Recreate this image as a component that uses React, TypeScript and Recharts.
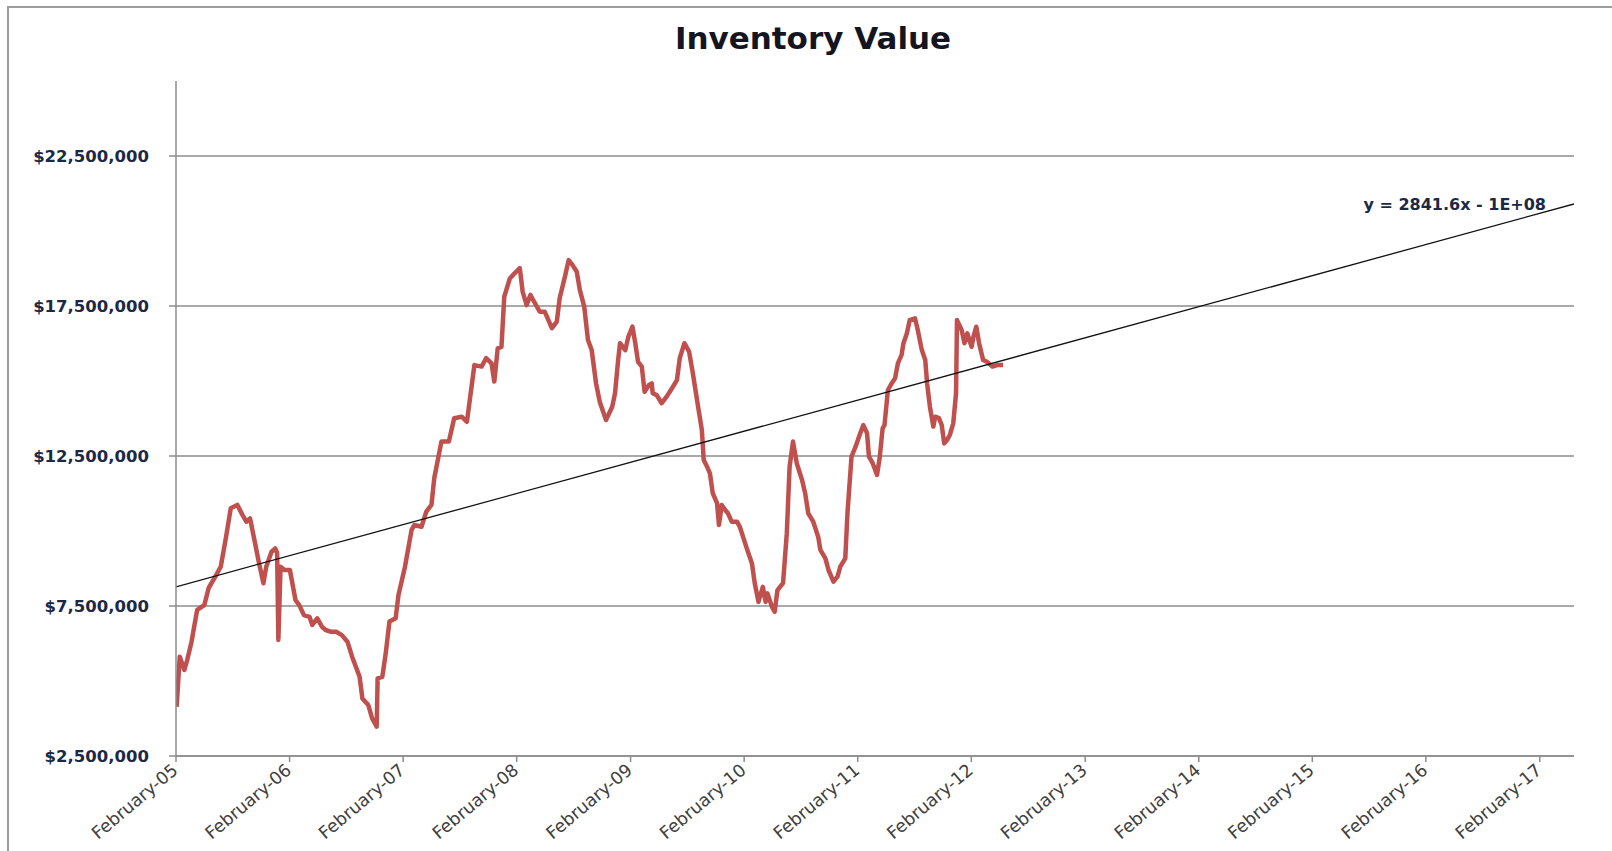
import { LineChart, Line, XAxis, YAxis, ReferenceLine, ReferenceDot } from 'recharts';

// weekly-ish inventory readings
const dates = [
  '2005-02-03', '2005-02-13', '2005-02-28', '2005-03-09', '2005-03-23', '2005-04-10', '2005-05-03', '2005-05-17',
  '2005-06-10', '2005-06-25', '2005-07-12', '2005-07-27', '2005-08-17', '2005-09-03', '2005-09-15', '2005-09-27',
  '2005-10-11', '2005-10-26', '2005-11-09', '2005-11-18', '2005-12-05', '2005-12-17', '2005-12-23', '2005-12-27',
  '2006-01-03', '2006-01-16', '2006-02-02', '2006-02-20', '2006-03-04', '2006-03-19', '2006-04-06', '2006-04-15',
  '2006-05-01', '2006-05-16', '2006-05-28', '2006-06-15', '2006-07-01', '2006-07-19', '2006-08-06', '2006-08-21',
  '2006-09-14', '2006-09-23', '2006-10-12', '2006-10-24', '2006-11-08', '2006-11-11', '2006-11-26', '2006-12-07',
  '2006-12-19', '2007-01-08', '2007-01-17', '2007-02-07', '2007-02-28', '2007-03-09', '2007-04-01', '2007-04-16',
  '2007-05-03', '2007-05-12', '2007-06-04', '2007-06-28', '2007-07-15', '2007-08-08', '2007-08-25', '2007-09-18',
  '2007-10-11', '2007-10-26', '2007-11-12', '2007-11-21', '2007-12-02', '2007-12-14', '2007-12-23', '2008-01-10',
  '2008-01-25', '2008-02-11', '2008-02-20', '2008-03-04', '2008-03-16', '2008-03-28', '2008-04-15', '2008-05-01',
  '2008-05-24', '2008-06-09', '2008-06-18', '2008-07-05', '2008-07-17', '2008-07-29', '2008-08-12', '2008-08-22',
  '2008-09-05', '2008-09-17', '2008-09-29', '2008-10-13', '2008-10-25', '2008-11-14', '2008-12-04', '2008-12-13',
  '2008-12-23', '2008-12-29', '2009-01-15', '2009-01-25', '2009-02-07', '2009-02-16', '2009-02-25', '2009-03-09',
  '2009-03-18', '2009-04-01', '2009-04-10', '2009-04-13', '2009-04-26', '2009-05-12', '2009-05-28', '2009-06-14',
  '2009-06-30', '2009-07-09', '2009-07-24', '2009-08-08', '2009-08-20', '2009-09-06', '2009-09-18', '2009-09-24',
  '2009-10-05', '2009-10-14', '2009-10-23', '2009-11-06', '2009-11-12', '2009-11-21', '2009-12-02', '2009-12-11',
  '2009-12-23', '2010-01-09', '2010-01-18', '2010-02-11', '2010-02-26', '2010-03-07', '2010-03-19', '2010-04-02',
  '2010-04-11', '2010-04-17', '2010-05-01', '2010-05-10', '2010-05-19', '2010-06-06', '2010-06-18', '2010-06-27',
  '2010-07-08', '2010-07-20', '2010-08-06', '2010-08-16', '2010-08-26', '2010-09-11', '2010-09-27', '2010-10-04',
  '2010-10-20', '2010-10-30', '2010-11-15', '2010-11-28', '2010-12-07', '2010-12-23', '2010-12-30', '2011-01-12',
  '2011-01-25', '2011-02-07', '2011-02-19', '2011-03-03', '2011-03-09', '2011-03-21', '2011-04-04', '2011-04-13',
  '2011-04-22', '2011-04-28', '2011-05-09', '2011-05-21', '2011-06-01', '2011-06-10', '2011-06-22', '2011-06-28',
  '2011-07-09', '2011-07-18', '2011-08-04', '2011-08-13', '2011-08-26', '2011-09-06', '2011-09-12', '2011-09-21',
  '2011-10-02', '2011-10-08', '2011-10-20', '2011-10-29', '2011-11-06', '2011-11-15', '2011-11-24', '2011-12-05',
  '2011-12-14', '2011-12-17', '2012-01-01', '2012-01-10', '2012-01-19', '2012-02-02', '2012-02-08', '2012-02-17',
  '2012-02-26', '2012-03-10', '2012-03-22', '2012-04-09', '2012-04-24', '2012-05-13',
];

const values = [
  4140000, 5810000, 5370000, 5700000, 6310000, 7370000, 7530000, 8100000,
  8530000, 8810000, 9810000, 10760000, 10870000, 10530000, 10310000, 10420000,
  9700000, 8920000, 8260000, 8810000, 9310000, 9420000, 9270000, 6370000,
  8810000, 8700000, 8700000, 7700000, 7530000, 7200000, 7140000, 6870000,
  7090000, 6810000, 6700000, 6640000, 6640000, 6530000, 6310000, 5810000,
  5140000, 4420000, 4200000, 3760000, 3480000, 5090000, 5140000, 5920000,
  6980000, 7090000, 7870000, 8810000, 10030000, 10200000, 10140000, 10640000,
  10870000, 11760000, 12980000, 12980000, 13760000, 13810000, 13640000, 15530000,
  15480000, 15760000, 15590000, 14980000, 16090000, 16140000, 17810000, 18420000,
  18590000, 18760000, 17980000, 17530000, 17870000, 17640000, 17310000, 17310000,
  16760000, 16980000, 17760000, 18480000, 19030000, 18870000, 18640000, 18030000,
  17480000, 16370000, 16030000, 14920000, 14300000, 13700000, 14140000, 14590000,
  15700000, 16260000, 16030000, 16480000, 16810000, 16260000, 15640000, 15480000,
  14640000, 14870000, 14920000, 14590000, 14530000, 14260000, 14480000, 14760000,
  15030000, 15760000, 16260000, 15980000, 15260000, 14140000, 13370000, 12370000,
  12140000, 11920000, 11260000, 10920000, 10200000, 10870000, 10700000, 10590000,
  10310000, 10310000, 10140000, 9370000, 8920000, 8260000, 7640000, 8140000,
  7640000, 7920000, 7480000, 7310000, 8030000, 8260000, 9920000, 12140000,
  12980000, 12260000, 11700000, 11260000, 10590000, 10310000, 9800000, 9370000,
  9090000, 8700000, 8310000, 8480000, 8810000, 9090000, 10590000, 12480000,
  12810000, 13200000, 13530000, 13260000, 12480000, 12260000, 11870000, 12480000,
  13420000, 13530000, 14700000, 14920000, 15090000, 15590000, 15870000, 16260000,
  16590000, 17030000, 17090000, 16700000, 16030000, 15700000, 14920000, 14140000,
  13480000, 13810000, 13760000, 13530000, 12920000, 13030000, 13200000, 13590000,
  14590000, 17030000, 16700000, 16260000, 16590000, 16140000, 16480000, 16810000,
  16260000, 15700000, 15640000, 15480000, 15530000, 15530000,
];

// linear trendline end points
const trendDates = ['2005-02-01', '2017-05-22'];
const trendValues = [8140000, 20900000];

const yearTicks = [
  '2005-02-01', '2006-02-01', '2007-02-01', '2008-02-01', '2009-02-01', '2010-02-01', '2011-02-01',
  '2012-02-01', '2013-02-01', '2014-02-01', '2015-02-01', '2016-02-01', '2017-02-01',
];
const valueTicks = [2500000, 7500000, 12500000, 17500000, 22500000];
const monthNames = [
  'January', 'February', 'March', 'April', 'May', 'June',
  'July', 'August', 'September', 'October', 'November', 'December',
];

const toTime = (d: string) => Date.parse(d + 'T00:00:00Z');
const series = dates.map((d, i) => ({ t: toTime(d), value: values[i] }));
const trend = trendDates.map((d, i) => ({ t: toTime(d), value: trendValues[i] }));

const money = (v: number) => '$' + v.toLocaleString('en-US');
const dateLabel = (t: number) => {
  const d = new Date(t);
  return monthNames[d.getUTCMonth()] + '-' + String(d.getUTCFullYear()).slice(2);
};

const YTick = ({ x, y, payload }: any) => (
  <text x={x} y={y} dy={5.5} textAnchor="end" fill="#1c2844"
    style={{ fontFamily: 'DejaVu Sans', fontWeight: 'bold', fontSize: 16.5 }}>
    {money(payload.value)}
  </text>
);

const XTick = ({ x, y, payload }: any) => (
  <text x={0} y={0} textAnchor="end" transform={`translate(${x + 3},${y + 8}) rotate(-40)`} fill="#404040"
    style={{ fontFamily: 'DejaVu Sans', fontSize: 17.5 }}>
    {dateLabel(payload.value)}
  </text>
);

const frameLine = { position: 'fixed' as const, background: '#9c9c9c', pointerEvents: 'none' as const, zIndex: 2 };

export default function App() {
  return (
    <div style={{ position: 'relative', width: 1596, height: 835, overflow: 'hidden' }}>
      <style>{'html, body { overflow: hidden; }'}</style>
      <div style={{
        position: 'absolute', left: 0, top: 12, width: 1596, paddingLeft: 14, boxSizing: 'border-box',
        textAlign: 'center', fontFamily: 'DejaVu Sans', fontWeight: 'bold', fontSize: 31, color: '#15151f',
      }}>
        Inventory Value
      </div>
      <LineChart width={1596} height={835} margin={{ top: 73, right: 30, bottom: 7, left: 0 }}>
        {valueTicks.map((v) => (
          <ReferenceLine key={v} y={v} stroke="#8c8c8c" strokeWidth={1.3} />
        ))}
        <XAxis type="number" dataKey="t" domain={[toTime('2005-02-01'), toTime('2017-05-22')]}
          ticks={yearTicks.map(toTime)} interval={0} height={80} tickSize={6} tickMargin={2}
          axisLine={{ stroke: '#8c8c8c', strokeWidth: 1.5 }} tickLine={{ stroke: '#8c8c8c', strokeWidth: 1.5 }}
          tick={<XTick />} allowDataOverflow />
        <YAxis type="number" domain={[2500000, 25000000]} ticks={valueTicks} interval={0} width={168}
          tickSize={7} tickMargin={20}
          axisLine={{ stroke: '#8c8c8c', strokeWidth: 1.5 }} tickLine={{ stroke: '#8c8c8c', strokeWidth: 1.5 }}
          tick={<YTick />} allowDataOverflow />
        <Line data={series} dataKey="value" type="linear" stroke="#C0504D" strokeWidth={4.5}
          strokeLinejoin="round" dot={false} isAnimationActive={false} />
        <Line data={trend} dataKey="value" type="linear" stroke="#111111" strokeWidth={1.3}
          dot={false} isAnimationActive={false} />
        <ReferenceDot x={trend[1].t} y={trend[1].value} r={0} fill="none" stroke="none"
          label={{
            value: 'y = 2841.6x - 1E+08', position: 'left', offset: 28, fill: '#1c2844',
            fontFamily: 'DejaVu Sans', fontWeight: 'bold', fontSize: 16,
          }} />
      </LineChart>
      <div style={{ ...frameLine, left: 7, top: 6, width: 2, height: 845 }} />
      <div style={{ ...frameLine, left: 7, top: 6, width: 1605, height: 2 }} />
    </div>
  );
}
